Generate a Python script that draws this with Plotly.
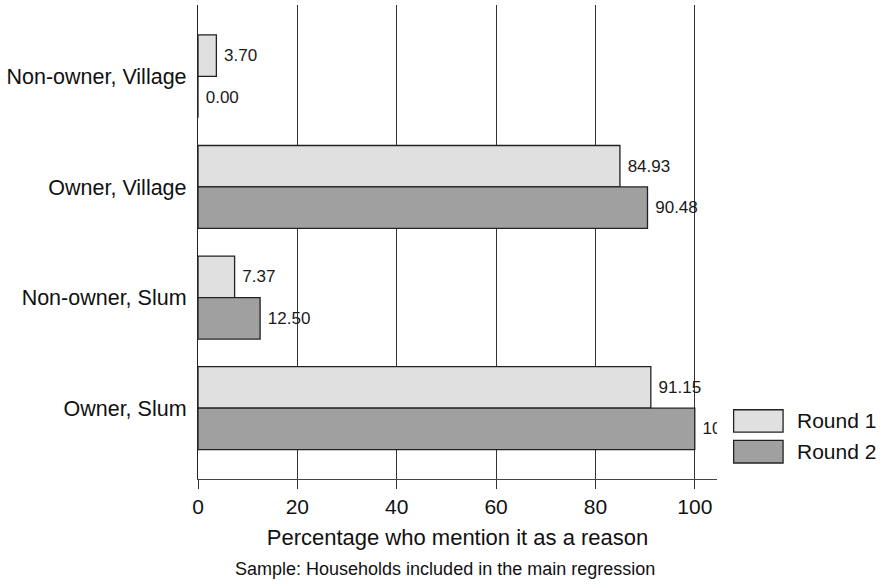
import plotly.graph_objects as go

categories = ["Non-owner, Village", "Owner, Village", "Non-owner, Slum", "Owner, Slum"]
round1 = [3.70, 84.93, 7.37, 91.15]
round2 = [0.00, 90.48, 12.50, 100.00]
series_names = ["Round 1", "Round 2"]
series_colors = ["#e0e0e0", "#a0a0a0"]
x_ticks = [0, 20, 40, 60, 80, 100]
x_title = "Percentage who mention it as a reason"
caption = "Sample: Households included in the main regression"

FONT = "Liberation Sans, Arial, sans-serif"

# plot area in pixels
L, R, T, B = 198.3, 716.7, 5.0, 479.3
W, H = 880, 584
PH = B - T
PW = R - L

fig = go.Figure()
for name, vals, col in zip(series_names, [round1, round2], series_colors):
    fig.add_trace(go.Bar(
        y=categories, x=vals, orientation="h", name=name,
        marker=dict(color=col, line=dict(color="#222222", width=1.3)),
        text=["\u00a0" + f"{v:.2f}" for v in vals],
        textposition="outside", constraintext="none", cliponaxis=True,
        textfont=dict(family=FONT, size=17, color="#1a1a1a"),
        showlegend=False,
    ))

fig.update_layout(
    width=W, height=H,
    margin=dict(l=L, r=W - R, t=T, b=H - B, autoexpand=False),
    paper_bgcolor="white", plot_bgcolor="white",
    barmode="group", bargap=0.25, bargroupgap=0,
    font=dict(family=FONT, color="#111111"),
    xaxis=dict(
        range=[0, 104.47], tickvals=x_ticks, ticktext=[str(t) for t in x_ticks],
        showgrid=True, gridcolor="#333333", gridwidth=1,
        showline=True, linecolor="#444444", linewidth=1.3,
        ticks="outside", ticklen=9, tickcolor="#333333",
        tickfont=dict(size=21), zeroline=False,
        title=dict(text=x_title, font=dict(size=22), standoff=12),
    ),
    yaxis=dict(
        categoryorder="array", categoryarray=categories,
        range=[3.64, -0.645], showgrid=False,
        showline=True, linecolor="#222222", linewidth=1.3,
        ticks="", tickfont=dict(size=21.5), ticklabelstandoff=6,
    ),
)

# manual legend
box_y = [(410, 432.3), (440.7, 463.3)]
for (y0, y1), name, col in zip(box_y, series_names, series_colors):
    fig.add_shape(type="rect", xref="paper", yref="paper",
                  x0=(733.3 - L) / PW, x1=(782.7 - L) / PW,
                  y0=(B - y1) / PH, y1=(B - y0) / PH,
                  fillcolor=col, line=dict(color="#222222", width=1.3))
    fig.add_annotation(xref="paper", yref="paper", x=(795 - L) / PW,
                       y=(B - (y0 + y1) / 2) / PH, text=name, showarrow=False,
                       xanchor="left", yanchor="middle", font=dict(size=21))

fig.add_annotation(xref="paper", yref="paper", x=(445 - L) / PW, y=(B - 569) / PH,
                   text=caption, showarrow=False, xanchor="center",
                   yanchor="middle", font=dict(size=18))

fig.write_html("out.html", config={"displayModeBar": False},
               post_script="document.body.style.margin='0px';")
